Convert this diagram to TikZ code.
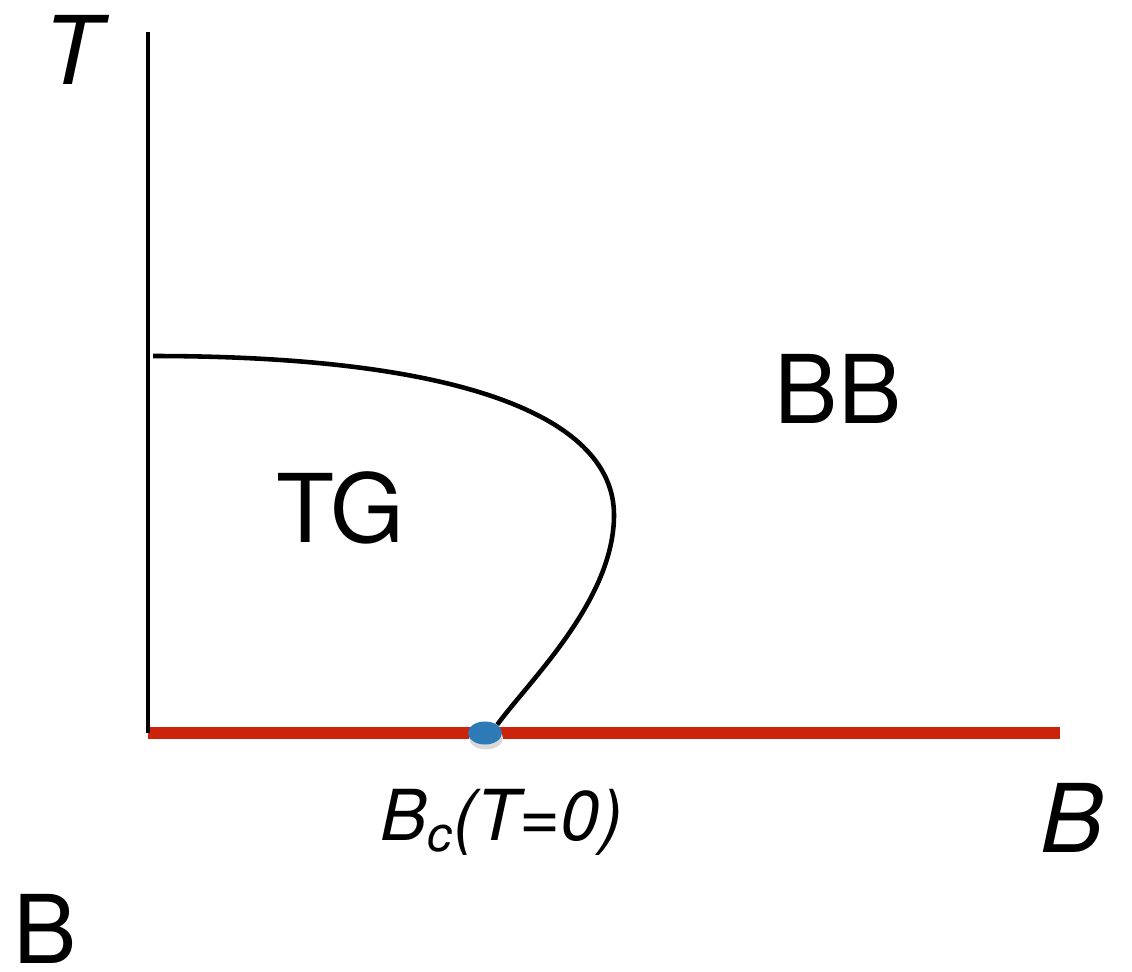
\documentclass[tikz,border=0pt]{standalone}
\usepackage{fontspec}
\setmainfont{TeX Gyre Heros}
\usetikzlibrary{shapes.geometric}
\definecolor{axisred}{RGB}{203,36,10}
\definecolor{dotblue}{RGB}{46,122,182}
\tikzset{
  biglabel/.style={inner sep=0pt,font=\fontsize{54}{60}\selectfont},
  midlabel/.style={inner sep=0pt,font=\fontsize{40}{46}\selectfont\itshape},
  dotshape/.style={ellipse,inner sep=0pt,minimum width=0.68cm,minimum height=0.46cm},
}

\begin{document}
\begin{tikzpicture}[x=0.02cm,y=-0.02cm]
\useasboundingbox (0,0) rectangle (1132,971);
\coordinate (O) at (148,733);
\coordinate (Ttop) at (148,32);
\coordinate (Bend) at (1060,733);
\coordinate (C) at (153,356);
\draw[line width=6.6pt,axisred] (O)--(Bend);
\draw[line width=2.3pt] (O)--(Ttop);
\node[dotshape,fill=black!15] (shadow) at (486,738) {};
\node[dotshape,fill=dotblue] (Bc) at (485,733) {};
\draw[line width=2.6pt] (C) .. controls (470,356) and (614,420) .. (614,515)
  .. controls (614,600) and (530,680) .. (Bc.north east);
\node[biglabel,font=\fontsize{54}{60}\selectfont\itshape] (Tlab) at (72,50) {T};
\node[biglabel,font=\fontsize{54}{60}\selectfont\itshape] (Blab) at (1072,818) {B};
\node[biglabel] (BB) at (838,389) {BB};
\node[biglabel] (TG) at (340,508) {TG};
\node[midlabel] (BcT) at (502,822) {B\textsubscript{c}(T=0)};
\node[biglabel] (Bcorner) at (45,929) {B};
\end{tikzpicture}
\end{document}
